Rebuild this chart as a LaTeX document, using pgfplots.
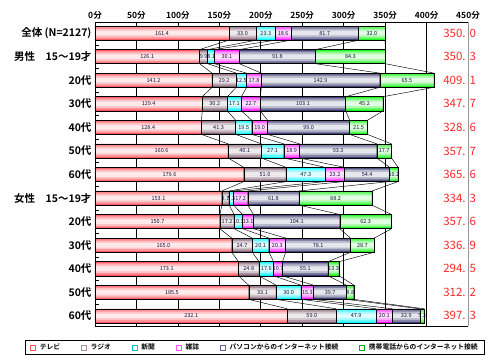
\documentclass[border=0pt]{standalone}
\usepackage{fontspec}
\setmainfont{Noto Sans CJK JP}[BoldFont={Noto Sans CJK JP Bold}]
\usepackage{pgfplots}
\pgfplotsset{compat=1.18}
\usepackage{pgfplotstable}

\definecolor{tvc}{RGB}{255,85,95}
\definecolor{rac}{RGB}{125,90,110}
\definecolor{nwc}{RGB}{0,245,255}
\definecolor{mgc}{RGB}{255,20,255}
\definecolor{pcc}{RGB}{60,60,115}
\definecolor{mbc}{RGB}{20,245,20}
\definecolor{totc}{RGB}{255,40,40}
\definecolor{labc}{RGB}{20,20,60}

\pgfplotstableread{
idx tv radio news mag pc mob total
0 161.4 33.0 23.3 18.6 81.7 32.0 350.\,\,0
1 126.1 9.9 8.1 30.1 91.8 84.3 350.\,\,3
2 141.2 29.2 12.5 17.8 142.9 65.5 409.\,\,1
3 129.4 30.2 17.1 22.7 103.1 45.2 347.\,\,7
4 128.4 41.3 19.5 19.0 99.0 21.5 328.\,\,6
5 160.6 40.1 27.1 18.9 93.3 17.7 357.\,\,7
6 179.6 51.0 47.3 23.2 54.4 10.2 365.\,\,6
7 153.1 8.7 5.3 17.2 61.8 88.2 334.\,\,3
8 150.7 17.2 10.3 13.1 104.1 62.3 357.\,\,6
9 165.0 24.7 20.1 20.3 78.1 28.7 336.\,\,9
10 173.1 24.8 17.6 10.7 55.1 13.3 294.\,\,5
11 185.5 33.1 30.0 15.3 39.7 8.8 312.\,\,2
12 232.1 59.0 47.9 20.1 32.9 5.3 397.\,\,3
}\data

% series lines: cumulative ends, bottom of bar i to top of bar i+1
\pgfplotstableread{
y c1 c2 c3 c4 c5 c6
0.3 161.4 194.4 217.7 236.3 318.0 350.0
0.7 126.1 136.0 144.1 174.2 266.0 350.3
1.3 126.1 136.0 144.1 174.2 266.0 350.3
1.7 141.2 170.4 182.9 200.7 343.6 409.1
2.3 141.2 170.4 182.9 200.7 343.6 409.1
2.7 129.4 159.6 176.7 199.4 302.5 347.7
3.3 129.4 159.6 176.7 199.4 302.5 347.7
3.7 128.4 169.7 189.2 208.2 307.2 328.7
4.3 128.4 169.7 189.2 208.2 307.2 328.7
4.7 160.6 200.7 227.8 246.7 340.0 357.7
5.3 160.6 200.7 227.8 246.7 340.0 357.7
5.7 179.6 230.6 277.9 301.1 355.5 365.7
6.3 179.6 230.6 277.9 301.1 355.5 365.7
6.7 153.1 161.8 167.1 184.3 246.1 334.3
7.3 153.1 161.8 167.1 184.3 246.1 334.3
7.7 150.7 167.9 178.2 191.3 295.4 357.7
8.3 150.7 167.9 178.2 191.3 295.4 357.7
8.7 165.0 189.7 209.8 230.1 308.2 336.9
9.3 165.0 189.7 209.8 230.1 308.2 336.9
9.7 173.1 197.9 215.5 226.2 281.3 294.6
10.3 173.1 197.9 215.5 226.2 281.3 294.6
10.7 185.5 218.6 248.6 263.9 303.6 312.4
11.3 185.5 218.6 248.6 263.9 303.6 312.4
11.7 232.1 291.1 339.0 359.1 392.0 397.3
}\sldata

\pgfplotsset{
  geom/.style={scale only axis, width=373pt, height=304pt, y dir=reverse,
    xmin=0, xmax=450, ymin=-0.47, ymax=12.43, clip=false},
  legsq/.style={legend image code/.code={\draw[draw=#1,fill=white,line width=0.7pt] (0pt,-2.4pt) rectangle (4.8pt,2.4pt);}},
  lab/.style={
    nodes near coords,
    point meta={\thisrow{#1}},
    every node near coord/.append style={
      anchor=center, text=labc, inner sep=0pt,
      font=\fontsize{5.5}{6}\selectfont,
      /pgf/number format/.cd, fixed, fixed zerofill, precision=1, assume math mode=true},
  },
}

\newcommand\whiteoverlay[2]{%
\begin{axis}[geom, hide axis, xbar stacked, bar width=#1]
\addplot[fill=white, fill opacity=#2, draw=none] table[x=tv, y=idx]{\data};
\addplot[fill=white, fill opacity=#2, draw=none] table[x=radio, y=idx]{\data};
\addplot[fill=white, fill opacity=#2, draw=none] table[x=news, y=idx]{\data};
\addplot[fill=white, fill opacity=#2, draw=none] table[x=mag, y=idx]{\data};
\addplot[fill=white, fill opacity=#2, draw=none] table[x=pc, y=idx]{\data};
\addplot[fill=white, fill opacity=#2, draw=none] table[x=mob, y=idx]{\data};
\end{axis}}

\begin{document}
\begin{tikzpicture}
\useasboundingbox (-95pt,-36pt) rectangle (403pt,326pt);
% main axis: grid, ticks, legend, solid colour bars
\begin{axis}[
  geom,
  xbar stacked,
  bar width=0.6,
  axis y line*=left,
  y axis line style={-, black, line width=0.6pt},
  x axis line style={black, line width=0.6pt},
  xtick={0,50,...,450},
  xticklabels={0分,50分,100分,150分,200分,250分,300分,350分,400分,450分},
  xticklabel pos=upper,
  xtick style={draw=none},
  xticklabel style={font=\bfseries\fontsize{8.5}{10}\selectfont, yshift=-1pt},
  xmajorgrids,
  grid style={black, line width=0.6pt},
  ytick={0,...,12},
  yticklabels={全体 (N=2127),男性　15～19才,20代,30代,40代,50代,60代,女性　15～19才,20代,30代,40代,50代,60代},
  yticklabel style={font=\bfseries\fontsize{10.5}{12}\selectfont},
  major tick length=0pt,
  minor ytick={0.5,1.5,...,11.5},
  minor tick length=4pt,
  tick align=inside,
  minor y tick style={black, line width=0.6pt},
  legend columns=6,
  legend style={
    at={(0.429,-0.0707)}, anchor=center,
    draw=black, line width=0.6pt,
    font=\bfseries\fontsize{6.8}{8}\selectfont,
    inner xsep=5pt, inner ysep=1.5pt,
    /tikz/every odd column/.append style={column sep=2pt},
    /tikz/every even column/.append style={column sep=19pt},
  },
]
\addplot[forget plot, fill=tvc, draw=none] table[x=tv, y=idx]{\data};
\addplot[forget plot, fill=rac, draw=none] table[x=radio, y=idx]{\data};
\addplot[forget plot, fill=nwc, draw=none] table[x=news, y=idx]{\data};
\addplot[forget plot, fill=mgc, draw=none] table[x=mag, y=idx]{\data};
\addplot[forget plot, fill=pcc, draw=none] table[x=pc, y=idx]{\data};
\addplot[forget plot, fill=mbc, draw=none] table[x=mob, y=idx]{\data};

\addlegendimage{legsq=tvc}\addlegendentry{テレビ}
\addlegendimage{legsq=rac!70}\addlegendentry{ラジオ}
\addlegendimage{legsq=nwc!80!black}\addlegendentry{新聞}
\addlegendimage{legsq=mgc!70}\addlegendentry{雑誌}
\addlegendimage{legsq=pcc!80}\addlegendentry{パソコンからのインターネット接続}
\addlegendimage{legsq=mbc!70!black}\addlegendentry{携帯電話からのインターネット接続}
\end{axis}
% gradient: white overlays, lighter towards the middle of each bar
\whiteoverlay{0.50}{0.35}
\whiteoverlay{0.36}{0.45}
\whiteoverlay{0.20}{0.65}
% borders and value labels
\begin{axis}[geom, hide axis, xbar stacked, bar width=0.6]
\addplot[fill=none, draw=black, line width=0.5pt, lab=tv] table[x=tv, y=idx]{\data};
\addplot[fill=none, draw=black, line width=0.5pt, lab=radio] table[x=radio, y=idx]{\data};
\addplot[fill=none, draw=black, line width=0.5pt, lab=news] table[x=news, y=idx]{\data};
\addplot[fill=none, draw=black, line width=0.5pt, lab=mag] table[x=mag, y=idx]{\data};
\addplot[fill=none, draw=black, line width=0.5pt, lab=pc] table[x=pc, y=idx]{\data};
\addplot[fill=none, draw=black, line width=0.5pt, lab=mob] table[x=mob, y=idx]{\data};
\end{axis}
% series lines, totals, right border
\begin{axis}[geom, hide axis]
\pgfplotsinvokeforeach{1,...,6}{
  \addplot[draw=black, line width=0.45pt, mark=none] table[x=c#1, y=y]{\sldata};
}
\addplot[draw=none, mark=none,
  nodes near coords, point meta=explicit symbolic,
  every node near coord/.append style={anchor=west, text=totc, inner sep=0pt, font=\fontsize{11.5}{12}\selectfont}]
  table[x expr=420, y=idx, meta=total]{\data};
\draw[gray!80, line width=0.8pt] (rel axis cs:1,0) -- (rel axis cs:1,1);
\end{axis}
\end{tikzpicture}
\end{document}
